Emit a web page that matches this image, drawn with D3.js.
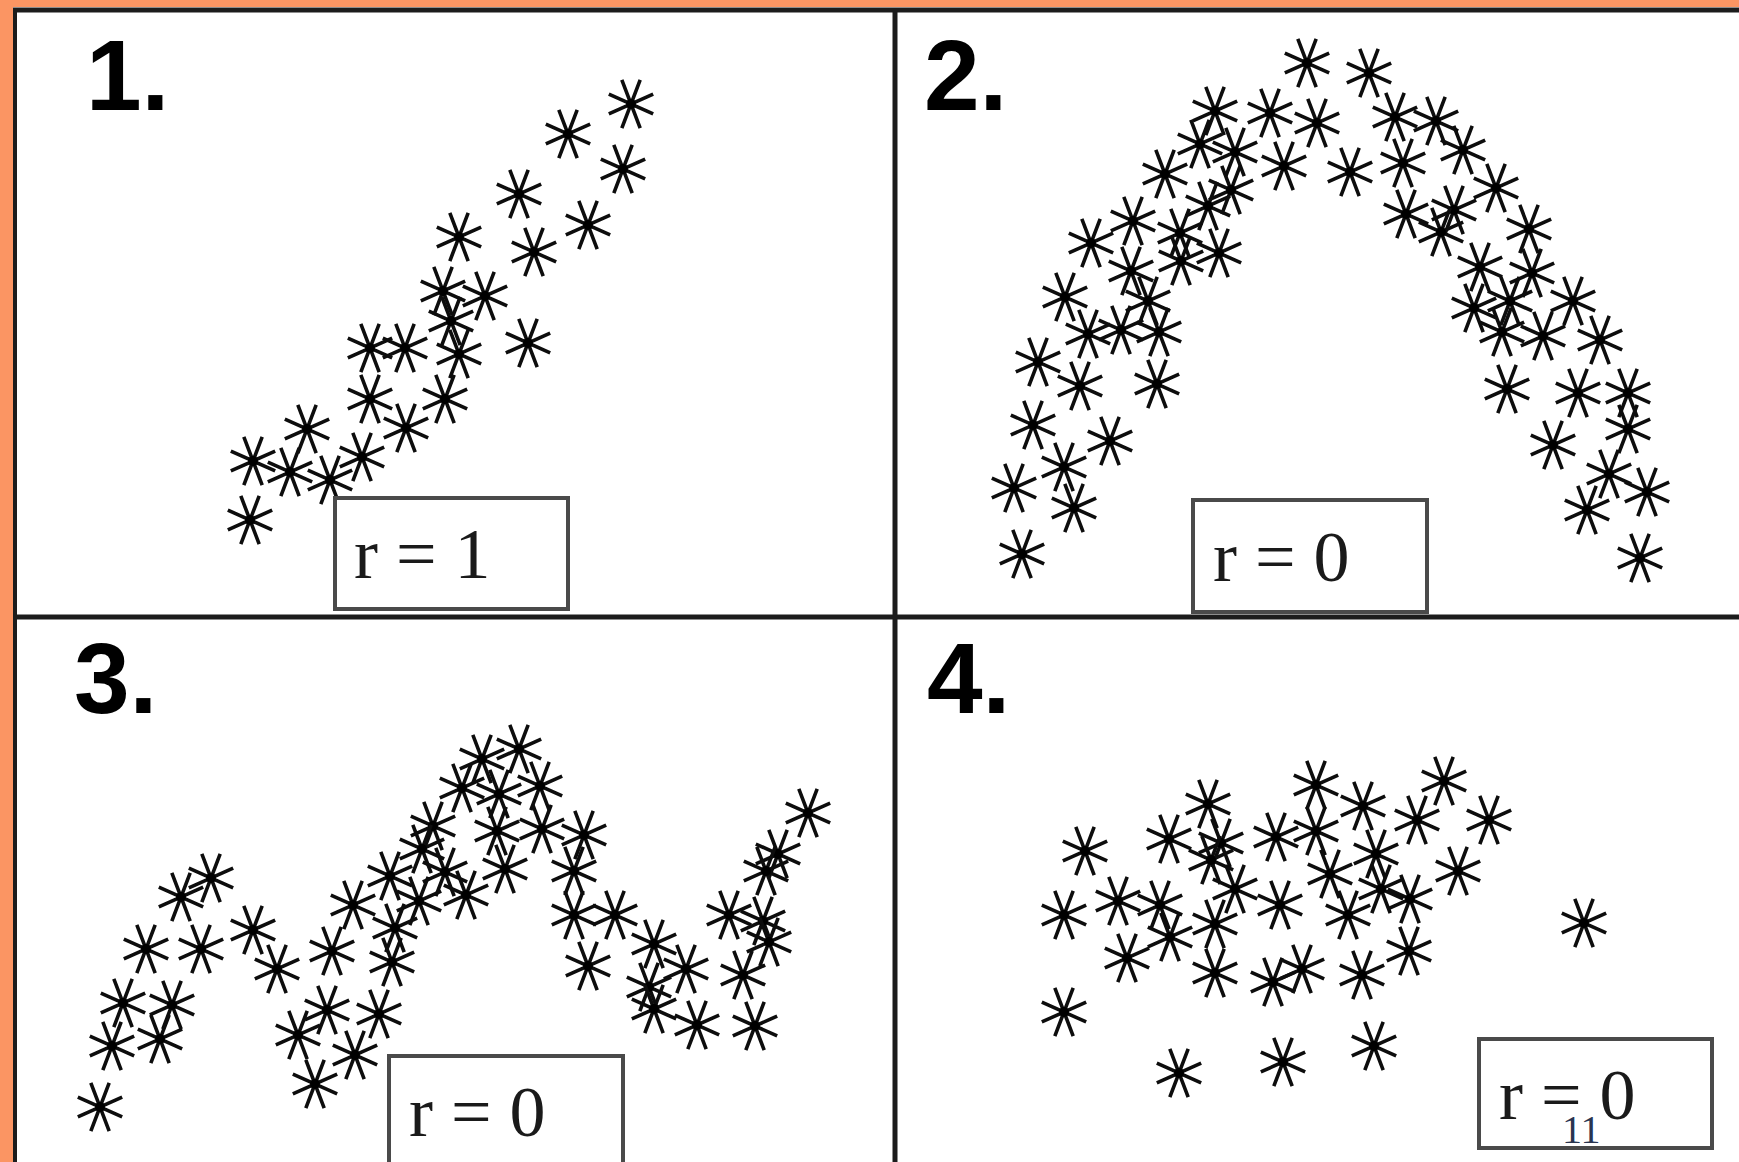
<!DOCTYPE html>
<html>
<head>
<meta charset="utf-8">
<script src="https://cdn.jsdelivr.net/npm/d3@7"></script>
<style>
  html, body { margin: 0; padding: 0; background: #fff; overflow: hidden; }
  svg { display: block; }
</style>
</head>
<body>
<svg id="chart"></svg>
<script>
// ---- Data: four scatter panels (x runs right, y runs up) ----
// Panel 1: strong positive linear trend
const panel1X = [61.6, 55.3, 60.8, 50.4, 57.3, 44.4, 51.9, 42.8, 47.0, 43.6, 35.5, 39.0,
                 44.4, 51.3, 35.5, 43.0, 39.1, 29.2, 23.8, 27.5, 34.7, 31.5, 23.5];
const panel1Y = [51.3, 48.3, 44.8, 42.3, 39.2, 38.0, 36.5, 32.6, 32.1, 29.6, 26.9, 26.9,
                 26.3, 27.4, 21.8, 21.8, 18.9, 18.8, 15.6, 14.5, 16.0, 13.7, 9.7];

// Panel 2: inverted-U curve
const panel2X = [41.2, 47.4, 32.0, 37.5, 42.2, 50.0, 54.1, 30.5, 34.0, 38.9, 45.5, 50.8,
                 56.8, 27.0, 33.6, 31.3, 60.1, 51.1, 55.9, 23.8, 28.5, 63.4, 54.6, 19.6,
                 32.4, 28.6, 23.6, 58.5, 63.7, 17.0, 25.3, 57.9, 61.5, 67.8, 19.3, 22.6,
                 26.4, 60.7, 64.8, 70.5, 14.3, 18.5, 26.2, 61.2, 68.3, 73.3, 13.8, 21.5,
                 73.3, 65.8, 16.9, 71.4, 11.9, 75.2, 17.9, 69.2, 12.7, 74.5];
const panel2Y = [55.4, 54.4, 50.6, 50.4, 49.4, 50.0, 49.6, 47.3, 46.5, 45.1, 44.5, 45.4,
                 46.7, 44.3, 42.7, 41.1, 42.9, 40.3, 40.7, 39.6, 38.4, 38.8, 38.5, 37.4,
                 36.4, 35.6, 34.6, 35.0, 34.4, 32.0, 31.6, 30.9, 31.6, 31.6, 28.3, 28.7,
                 28.5, 28.5, 28.1, 27.7, 25.5, 23.1, 23.3, 22.8, 22.4, 22.4, 19.2, 17.6,
                 18.8, 17.2, 15.0, 14.3, 12.9, 12.5, 10.9, 10.7, 6.3, 5.9];

// Panel 3: zig-zag, no linear trend
const panel3X = [50.4, 46.7, 44.7, 48.4, 52.5, 41.8, 48.2, 52.7, 56.9, 40.7, 79.3, 76.3,
                 75.1, 37.5, 43.0, 49.0, 55.9, 45.1, 40.4, 19.6, 16.6, 33.8, 55.9, 60.0,
                 71.4, 74.8, 38.0, 23.8, 13.1, 18.6, 31.7, 63.9, 75.4, 37.7, 26.2, 57.3,
                 67.1, 72.8, 10.8, 15.7, 63.4, 31.2, 36.4, 63.9, 9.7, 14.5, 28.3, 34.0,
                 68.2, 74.0, 30.0, 8.5];
const panel3Y = [41.3, 40.3, 37.4, 36.8, 37.6, 33.6, 33.1, 33.3, 32.7, 31.3, 34.9, 30.8,
                 29.1, 28.6, 29.0, 29.3, 29.1, 26.7, 26.1, 28.4, 26.5, 25.7, 24.7, 24.7,
                 24.7, 24.1, 23.4, 23.2, 21.3, 21.3, 21.1, 21.8, 22.0, 20.0, 19.3, 19.6,
                 19.3, 18.7, 15.9, 15.7, 17.5, 15.2, 14.8, 15.3, 11.6, 12.3, 12.7, 10.7,
                 13.7, 13.6, 7.8, 5.5];

// Panel 4: shapeless cloud
const panel4X = [54.9, 42.1, 31.3, 46.8, 52.2, 59.4, 27.4, 32.6, 38.1, 42.1, 19.0, 31.6,
                 48.1, 43.5, 56.3, 34.0, 22.3, 26.5, 38.5, 48.6, 51.5, 16.9, 45.3, 32.0,
                 27.5, 68.9, 23.2, 51.4, 32.0, 37.8, 40.7, 46.7, 16.9, 47.9, 38.8, 28.4];
const panel4Y = [38.1, 37.7, 35.8, 35.6, 34.2, 34.2, 32.3, 31.9, 32.5, 33.1, 31.1, 30.2,
                 30.8, 28.8, 29.1, 27.3, 26.1, 25.7, 25.7, 27.3, 26.3, 24.7, 24.7, 23.8,
                 22.5, 23.9, 20.4, 21.1, 18.9, 18.0, 19.3, 18.7, 15.0, 11.6, 10.0, 8.9];

const panelTitles = ["1.", "2.", "3.", "4."];
const correlationLabels = ["r = 1", "r = 0", "r = 0", "r = 0"];
const strayGlyphs = "11";

// ---- Layout ----
const W = 1739, H = 1162;
const svg = d3.select("#chart").attr("width", W).attr("height", H);

const colX = [[15, 895], [895, 1739]];
const rowY = [[617, 10], [1162, 617]];
const colDomain = [88, 84.4];
const rowDomain = [60.7, 54.5];

const panels = [
  { xs: panel1X, ys: panel1Y, col: 0, row: 0,
    title: [86, 110], box: [335, 498, 233, 111], label: [354, 578] },
  { xs: panel2X, ys: panel2Y, col: 1, row: 0,
    title: [924, 110], box: [1193, 500, 234, 112], label: [1213, 581] },
  { xs: panel3X, ys: panel3Y, col: 0, row: 1,
    title: [74, 713], box: [389, 1056, 234, 130], label: [409, 1136] },
  { xs: panel4X, ys: panel4Y, col: 1, row: 1,
    title: [927, 713], box: [1479, 1039, 233, 109], label: [1499, 1119] }
];

// Eight-spoke asterisk marker (four strokes rotated by 22.5 degrees)
const RX = 24, RY = 26;
function asteriskPath() {
  let d = "";
  for (let k = 0; k < 4; k++) {
    const a = (22.5 + 45 * k) * Math.PI / 180;
    const dx = RX * Math.cos(a), dy = RY * Math.sin(a);
    d += `M${(-dx).toFixed(2)},${(-dy).toFixed(2)}L${dx.toFixed(2)},${dy.toFixed(2)}`;
  }
  return d;
}
const markerD = asteriskPath();

svg.append("rect").attr("width", W).attr("height", H).attr("fill", "#fff");

panels.forEach((p, i) => {
  const x = d3.scaleLinear().domain([0, colDomain[p.col]]).range(colX[p.col]);
  const y = d3.scaleLinear().domain([0, rowDomain[p.row]]).range(rowY[p.row]);
  const g = svg.append("g").attr("class", "panel-" + (i + 1));

  const pts = g.selectAll("g.pt")
    .data(d3.range(p.xs.length))
    .join("g")
    .attr("class", "pt")
    .attr("transform", j => `translate(${x(p.xs[j])},${y(p.ys[j])})`);

  pts.append("path")
    .attr("d", markerD)
    .attr("fill", "none")
    .attr("stroke", "#0d0d0d")
    .attr("stroke-width", 3.6)
    .attr("stroke-linecap", "butt");

  pts.append("circle")
    .attr("r", 5)
    .attr("fill", "#000");

  // correlation box
  const [bx, by, bw, bh] = p.box;
  g.append("rect")
    .attr("x", bx).attr("y", by).attr("width", bw).attr("height", bh)
    .attr("fill", "#fff")
    .attr("stroke", "#4a4a4a")
    .attr("stroke-width", 4);

  const label = g.append("text")
    .attr("x", p.label[0]).attr("y", p.label[1])
    .attr("font-family", "'Liberation Serif', 'Times New Roman', serif")
    .attr("font-size", 72)
    .attr("fill", "#1a1a1a")
    .attr("xml:space", "preserve");
  label.append("tspan").text(correlationLabels[i]);

  // small stray glyphs printed under the equals sign in panel 4
  if (i === 3) {
    label.append("tspan")
      .attr("x", 1562).attr("y", 1143)
      .attr("font-size", 40)
      .attr("fill", "#2a3550")
      .text(strayGlyphs);
  }

  g.append("text")
    .attr("x", p.title[0]).attr("y", p.title[1])
    .attr("font-family", "'Liberation Sans', Arial, sans-serif")
    .attr("font-weight", "bold")
    .attr("font-size", 100)
    .attr("fill", "#000")
    .text(panelTitles[i]);
});

// Frame: orange outer edge and dark panel dividers
const frame = svg.append("g").attr("class", "frame");
frame.append("rect").attr("x", 0).attr("y", 0).attr("width", W).attr("height", 7).attr("fill", "#fb9563");
frame.append("rect").attr("x", 0).attr("y", 0).attr("width", 13).attr("height", H).attr("fill", "#fb9563");

const lineStyle = sel => sel.attr("stroke", "#1c1c1c").attr("stroke-width", 5);
frame.append("line").attr("x1", 13).attr("x2", W).attr("y1", 10).attr("y2", 10).call(lineStyle);
frame.append("line").attr("x1", 15).attr("x2", 15).attr("y1", 8).attr("y2", H).call(lineStyle).attr("stroke-width", 4);
frame.append("line").attr("x1", 895).attr("x2", 895).attr("y1", 8).attr("y2", H).call(lineStyle);
frame.append("line").attr("x1", 13).attr("x2", W).attr("y1", 617).attr("y2", 617).call(lineStyle);
</script>
</body>
</html>
